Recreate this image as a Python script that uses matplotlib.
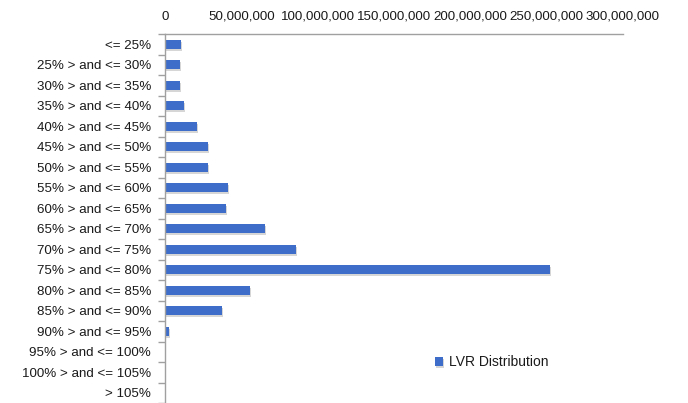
import numpy as np
import matplotlib
matplotlib.use('Agg')
import matplotlib.pyplot as plt
import matplotlib.ticker as tck
import matplotlib.patheffects as pe

# Datos
categorias = ['<= 25%', '25% > and <= 30%', '30% > and <= 35%', '35% > and <= 40%',
              '40% > and <= 45%', '45% > and <= 50%', '50% > and <= 55%',
              '55% > and <= 60%', '60% > and <= 65%', '65% > and <= 70%',
              '70% > and <= 75%', '75% > and <= 80%', '80% > and <= 85%',
              '85% > and <= 90%', '90% > and <= 95%', '95% > and <= 100%',
              '100% > and <= 105%', '> 105%']
valores = [10500000, 9800000, 9800000, 12400000, 21000000, 28000000, 28000000,
           41000000, 40000000, 65500000, 86000000, 252000000, 55700000,
           37300000, 2600000, 0, 0, 0]
ticks_x = [0, 50000000, 100000000, 150000000, 200000000, 250000000, 300000000]

plt.rcParams['font.family'] = ['Liberation Sans', 'DejaVu Sans']

fig = plt.figure(figsize=(6.88, 4.03), dpi=100)
ax = fig.add_axes([0.2398, 0.0, 0.6657, 0.9156])

y = np.arange(len(categorias))
bars = ax.barh(y, valores, height=0.45, color='#3E6CC9', label='LVR Distribution')
for b in bars:
    b.set_path_effects([pe.SimplePatchShadow(offset=(0.8, -1.5), shadow_rgbFace='#8a8a8a', alpha=0.35),
                        pe.Normal()])

ax.set_ylim(len(categorias) - 0.5, -0.5)
ax.set_xlim(0, 300000000)
ax.set_yticks(y)
ax.set_yticklabels(categorias)
ax.yaxis.set_minor_locator(tck.FixedLocator(np.arange(-0.5, len(categorias), 1)))
ax.tick_params(axis='y', which='major', length=0, pad=10, labelsize=9.6, labelcolor='#1a1a1a')
ax.tick_params(axis='y', which='minor', length=5, color='#a0a0a0', width=1)

ax.xaxis.tick_top()
ax.set_xticks(ticks_x)
ax.xaxis.set_major_formatter(tck.FuncFormatter(lambda v, p: f'{int(v):,}'))
ax.tick_params(axis='x', length=0, pad=8, labelsize=9.6, labelcolor='#1a1a1a')

for s in ['right', 'bottom']:
    ax.spines[s].set_visible(False)
for s in ['top', 'left']:
    ax.spines[s].set_color('#a0a0a0')
    ax.spines[s].set_linewidth(1)

ax.legend(loc='center left', bbox_to_anchor=(0.574, 0.11), frameon=False,
          handlelength=0.6, handleheight=0.6, handletextpad=0.4, borderpad=0,
          fontsize=10, labelcolor='#1a1a1a')

fig.savefig('out.png', dpi=100)
